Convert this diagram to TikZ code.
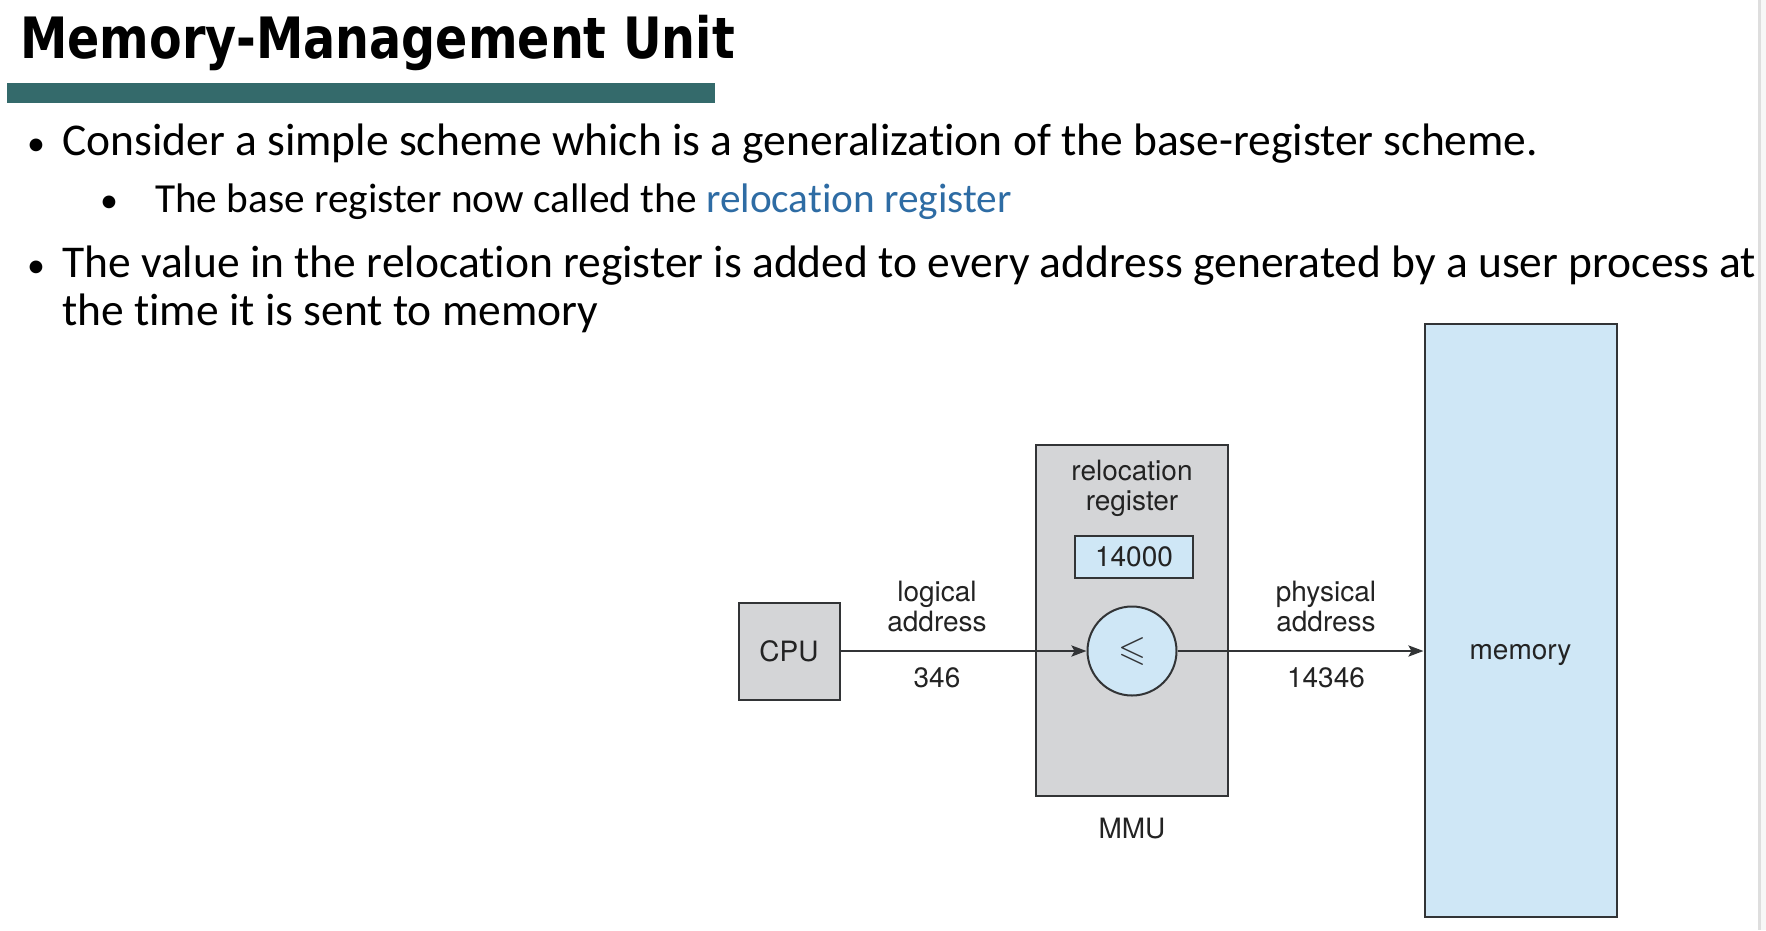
\documentclass[tikz,border=0pt]{standalone}
\usepackage{amssymb}
\usepackage{fontspec}
\setmainfont{Carlito}[Ligatures=NoCommon]
\newfontfamily\titlefont{DejaVu Sans}[FakeStretch=0.835]
\newfontfamily\diagfont{TeX Gyre Heros}
\usetikzlibrary{arrows.meta}

\definecolor{barteal}{RGB}{52,106,107}
\definecolor{linkblue}{RGB}{46,108,164}
\definecolor{boxgray}{RGB}{212,213,215}
\definecolor{boxblue}{RGB}{207,231,246}
\definecolor{edge}{RGB}{50,52,54}
\definecolor{labeltext}{RGB}{35,35,35}
\definecolor{rimline}{RGB}{222,222,222}
\definecolor{rimfill}{RGB}{247,247,247}

\tikzset{
  bodytext/.style={font=\fontsize{45.5}{52}\selectfont, inner sep=0pt, anchor=base west},
  subtext/.style={font=\fontsize{41.3}{48}\selectfont, inner sep=0pt, anchor=base west},
  bulletmark/.style={inner sep=0pt, anchor=base, font=\fontsize{36}{40}\selectfont},
  box/.style={draw=edge, line width=2pt, fill=boxgray, inner sep=0pt},
  bluebox/.style={box, fill=boxblue},
  lbl/.style={font=\diagfont\fontsize{28}{30}\selectfont, text=labeltext, align=center, inner sep=0pt},
  link/.style={line width=2.5pt, draw=edge, -{Stealth[length=15pt,width=11pt,inset=3pt]}}
}

\begin{document}
\begin{tikzpicture}[x=1pt,y=-1pt]
\useasboundingbox (0,0) rectangle (1766,930);
\fill[white] (0,0) rectangle (1766,930);
% slide rim on the right
\fill[rimfill] (1760.5,0) rectangle (1766,930);
\fill[rimline] (1758,0) rectangle (1760.5,930);

% heading
\node[inner sep=0pt, anchor=base west, font=\titlefont\bfseries\fontsize{57}{60}\selectfont] (title) at (20,58.5) {Memory-Management Unit};
\fill[barteal] (7,83) rectangle (715,102.5);

% bullet list
\node[bulletmark] (b1) at (36,155.5) {•};
\node[bodytext] (t1) at (62,155.5) {Consider a simple scheme which is a generalization of the base-register scheme.};
\node[bulletmark] (b2) at (109,212) {•};
\node[subtext] (t2) at (155,212) {The base register now called the \textcolor{linkblue}{relocation register}};
\node[bulletmark] (b3) at (36,277) {•};
\node[bodytext] (t3) at (62,277) {The value in the relocation register is added to every address generated by a user process at};
\node[bodytext] (t4) at (62,325.5) {the time it is sent to memory};

% MMU diagram
\node[box, minimum width=192, minimum height=351] (mmu) at (1132,620.5) {};
\node[box, minimum width=101, minimum height=97, lbl] (cpu) at (789,651) {CPU};
\node[bluebox, minimum width=192, minimum height=593] (mem) at (1520.5,620.5) {};
\node[lbl, anchor=base] (memlbl) at (1520.5,659) {memory};
\node[lbl] (relabel) at (1132,488.5) {relocation\\register};
\node[bluebox, minimum width=118, minimum height=42, lbl] (reg) at (1134,556.5) {14000};
\node[bluebox, circle, minimum size=89] (adder) at (1132,651) {};
\node[inner sep=0pt, text=edge, font=\fontsize{36}{36}\selectfont] (sym) at (adder.center) {$\leqslant$};

\node[lbl] (logl) at (937,606) {logical\\address};
\node[lbl, anchor=base] (lval) at (937,687) {346};
\node[lbl] (phyl) at (1326,606) {physical\\address};
\node[lbl, anchor=base] (pval) at (1326,687) {14346};
\node[lbl, anchor=base] (mmulbl) at (1132,838) {MMU};

\draw[link] (cpu.east) -- (adder.west);
\draw[link] (adder.east) -- (adder.east -| mem.west);
\end{tikzpicture}
\end{document}
